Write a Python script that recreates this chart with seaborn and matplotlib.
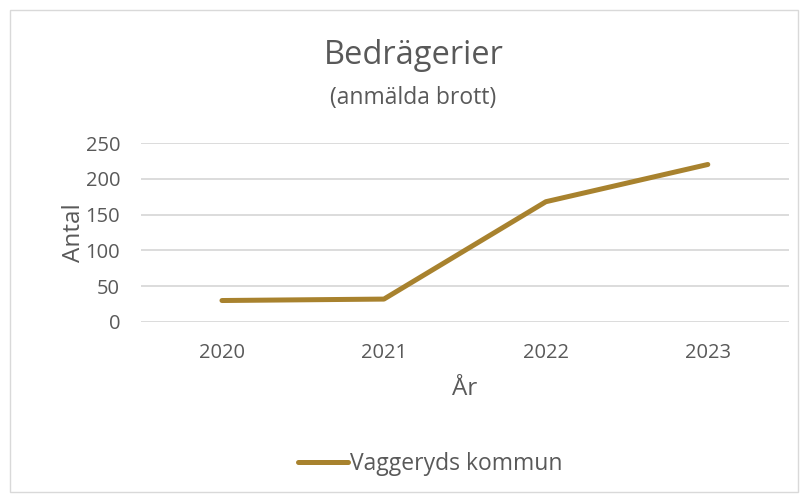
import matplotlib.pyplot as plt
import pandas as pd
import seaborn as sns
from matplotlib.patches import Rectangle

years = ["2020", "2021", "2022", "2023"]
crimes = [30, 32, 168, 220]
series_name = "Vaggeryds kommun"
y_ticks = [0, 50, 100, 150, 200, 250]

LINE_COLOR = "#A8822E"
TEXT_COLOR = "#595959"
GRID_COLOR = "#D9D9D9"


def main() -> None:
    sns.set_theme(style="white")
    plt.rcParams["font.family"] = ["Open Sans", "DejaVu Sans"]

    df = pd.DataFrame({"year": years, "count": crimes, "series": series_name})

    fig = plt.figure(figsize=(8.09, 4.95), dpi=100)
    ax = fig.add_axes([0.1743, 0.3495, 0.8007, 0.3616])

    sns.lineplot(
        data=df,
        x="year",
        y="count",
        hue="series",
        palette=[LINE_COLOR],
        linewidth=3.6,
        ax=ax,
        legend=False,
    )
    for line in ax.lines:
        line.set_solid_capstyle("round")

    ax.set_xlim(-0.5, len(years) - 0.5)
    ax.set_ylim(0, 250)
    ax.set_yticks(y_ticks)
    ax.yaxis.grid(True, color=GRID_COLOR, linewidth=1.3)
    ax.set_axisbelow(True)
    for side in ["top", "right", "left", "bottom"]:
        ax.spines[side].set_visible(False)
    ax.tick_params(axis="both", length=0, labelsize=14.5, labelcolor=TEXT_COLOR)
    ax.tick_params(axis="x", pad=15)
    ax.tick_params(axis="y", pad=15)

    ax.set_xlabel("År", fontsize=17.5, color=TEXT_COLOR, labelpad=10)
    ax.set_ylabel("Antal", fontsize=17.5, color=TEXT_COLOR, labelpad=0)

    fig.text(0.511, 0.888, "Bedrägerier", ha="center", va="center",
             fontsize=23.5, color=TEXT_COLOR)
    fig.text(0.511, 0.802, "(anmälda brott)", ha="center", va="center",
             fontsize=16.5, color=TEXT_COLOR)

    handle = plt.Line2D([], [], color=LINE_COLOR, linewidth=3.6,
                        solid_capstyle="round")
    fig.legend([handle], [series_name], loc="center",
               bbox_to_anchor=(0.532, 0.062), frameon=False, fontsize=16.5,
               handlelength=2.2, handletextpad=0.1, labelcolor=TEXT_COLOR)

    fig.patches.append(Rectangle((10 / 809, 3 / 495), 788 / 809, 482 / 495,
                                 transform=fig.transFigure, fill=False,
                                 edgecolor=GRID_COLOR, linewidth=1.0))

    fig.savefig("out.png", dpi=100)
    plt.close(fig)


if __name__ == "__main__":
    main()
